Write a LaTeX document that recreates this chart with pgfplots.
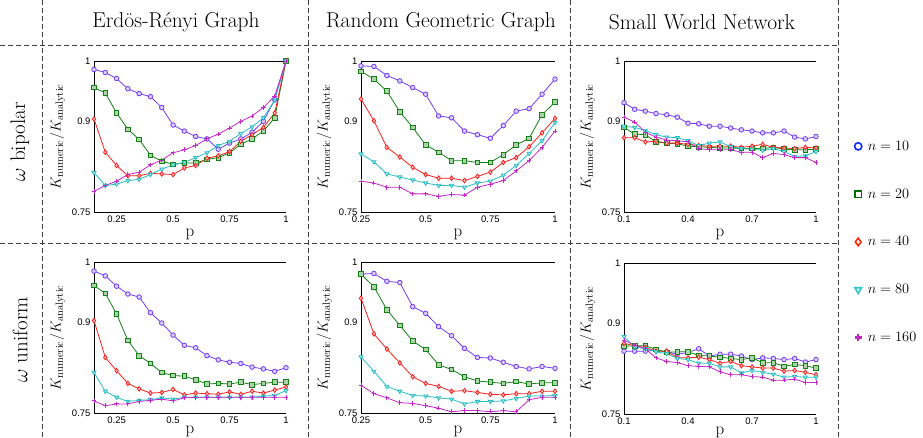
\documentclass[border=0pt]{standalone}
\usepackage{fontspec}
\usepackage{pgfplots}
\usepackage{pgfplotstable}
\pgfplotsset{compat=1.18}
\newfontfamily\tickfont{Liberation Sans}

\definecolor{c10}{RGB}{115,60,245}
\definecolor{c20}{RGB}{20,130,20}
\definecolor{c40}{RGB}{250,30,30}
\definecolor{c80}{RGB}{40,190,195}
\definecolor{c160}{RGB}{195,40,200}
\definecolor{l10}{RGB}{10,40,255}
\definecolor{l20}{RGB}{0,110,0}
\definecolor{l40}{RGB}{255,40,0}
\definecolor{l80}{RGB}{40,200,200}
\definecolor{l160}{RGB}{190,40,190}

\pgfplotsset{
 panel/.style={
  scale only axis, width=192pt, height=151pt, xmax=1, ymin=0.75, ymax=1,
  axis x line*=bottom, axis y line*=left, axis line style={-, black, line width=0.8pt},
  ytick={0.75,0.9,1}, major tick length=0pt,
  tick label style={font=\tickfont\fontsize{9.5}{9.5}\selectfont},
  /pgf/number format/assume math mode=true,
  xlabel={p}, ylabel={$K_{\mathrm{numeric}}/K_{\mathrm{analytic}}$},
  xlabel style={font=\fontsize{17}{17}\selectfont},
  ylabel style={font=\fontsize{15}{15}\selectfont},
  every axis plot/.append style={line width=0.8pt, mark size=2.3pt},
  clip=false,
 },
 s10/.style={c10, mark=*, mark options={fill=c10!25, draw=c10}},
 s20/.style={c20, mark=square*, mark options={fill=c20!35, draw=c20}},
 s40/.style={c40, mark=diamond*, mark options={fill=c40!25, draw=c40}},
 s80/.style={c80, mark=triangle*, mark options={fill=c80!35, draw=c80, rotate=180}},
 s160/.style={c160, mark=+, mark options={c160, line width=0.9pt}},
}

\pgfplotstableread{
p a b c d e
0.15 0.986 0.956 0.904 0.815 0.784
0.20 0.981 0.947 0.849 0.794 0.794
0.25 0.971 0.914 0.827 0.796 0.801
0.30 0.954 0.887 0.810 0.802 0.812
0.35 0.946 0.870 0.810 0.804 0.816
0.40 0.941 0.844 0.814 0.812 0.828
0.45 0.923 0.834 0.813 0.821 0.836
0.50 0.894 0.829 0.812 0.828 0.848
0.55 0.884 0.831 0.823 0.832 0.853
0.60 0.875 0.831 0.827 0.840 0.860
0.65 0.871 0.837 0.839 0.848 0.871
0.70 0.854 0.840 0.843 0.860 0.879
0.75 0.864 0.848 0.850 0.867 0.889
0.80 0.871 0.862 0.867 0.880 0.900
0.85 0.882 0.871 0.878 0.891 0.909
0.90 0.900 0.884 0.890 0.906 0.923
0.95 0.936 0.906 0.914 0.935 0.942
1.00 1.000 1.000 1.000 1.000 1.000
}\tA

\pgfplotstableread{
p a b c d e
0.25 0.992 0.983 0.937 0.846 0.801
0.30 0.991 0.970 0.901 0.833 0.798
0.35 0.976 0.950 0.857 0.813 0.791
0.40 0.967 0.916 0.841 0.808 0.791
0.45 0.956 0.890 0.824 0.803 0.780
0.50 0.945 0.861 0.812 0.798 0.780
0.55 0.909 0.849 0.806 0.794 0.776
0.60 0.906 0.835 0.806 0.794 0.779
0.65 0.884 0.835 0.802 0.791 0.778
0.70 0.878 0.832 0.809 0.798 0.791
0.75 0.872 0.832 0.816 0.801 0.796
0.80 0.893 0.845 0.832 0.811 0.802
0.85 0.917 0.861 0.840 0.827 0.818
0.90 0.921 0.872 0.858 0.847 0.835
0.95 0.945 0.911 0.881 0.868 0.857
1.00 0.970 0.932 0.905 0.898 0.884
}\tB

\pgfplotstableread{
p a b c d e
0.10 0.931 0.890 0.873 0.892 0.907
0.15 0.920 0.879 0.873 0.890 0.899
0.20 0.917 0.878 0.866 0.885 0.882
0.25 0.913 0.866 0.867 0.878 0.874
0.30 0.911 0.864 0.864 0.874 0.869
0.35 0.907 0.863 0.864 0.873 0.868
0.40 0.897 0.859 0.862 0.868 0.866
0.45 0.896 0.858 0.860 0.860 0.855
0.50 0.892 0.857 0.859 0.864 0.853
0.55 0.892 0.856 0.859 0.866 0.853
0.60 0.889 0.856 0.859 0.858 0.853
0.65 0.886 0.855 0.857 0.855 0.849
0.70 0.884 0.855 0.859 0.854 0.849
0.75 0.881 0.855 0.862 0.852 0.840
0.80 0.881 0.857 0.857 0.855 0.847
0.85 0.884 0.854 0.856 0.850 0.845
0.90 0.874 0.853 0.855 0.842 0.840
0.95 0.871 0.853 0.857 0.843 0.840
1.00 0.875 0.854 0.856 0.850 0.832
}\tC

\pgfplotstableread{
p a b c d e
0.15 0.985 0.961 0.903 0.817 0.770
0.20 0.977 0.948 0.842 0.786 0.762
0.25 0.960 0.914 0.820 0.776 0.765
0.30 0.947 0.870 0.799 0.769 0.765
0.35 0.942 0.845 0.790 0.771 0.769
0.40 0.916 0.832 0.783 0.772 0.771
0.45 0.899 0.817 0.784 0.775 0.773
0.50 0.879 0.812 0.789 0.773 0.770
0.55 0.862 0.811 0.780 0.776 0.775
0.60 0.858 0.805 0.783 0.776 0.776
0.65 0.845 0.798 0.782 0.776 0.776
0.70 0.838 0.799 0.781 0.776 0.776
0.75 0.834 0.798 0.785 0.776 0.776
0.80 0.832 0.801 0.781 0.776 0.776
0.85 0.826 0.797 0.786 0.776 0.776
0.90 0.823 0.799 0.783 0.778 0.776
0.95 0.819 0.801 0.788 0.779 0.776
1.00 0.825 0.801 0.793 0.787 0.776
}\tD

\pgfplotstableread{
p a b c d e
0.25 0.980 0.980 0.940 0.843 0.796
0.30 0.981 0.959 0.881 0.819 0.782
0.35 0.968 0.921 0.856 0.794 0.775
0.40 0.966 0.895 0.833 0.786 0.767
0.45 0.926 0.869 0.810 0.779 0.766
0.50 0.915 0.855 0.799 0.778 0.762
0.55 0.893 0.830 0.794 0.775 0.758
0.60 0.878 0.822 0.786 0.773 0.752
0.65 0.857 0.810 0.787 0.765 0.754
0.70 0.842 0.803 0.784 0.769 0.754
0.75 0.841 0.801 0.781 0.769 0.752
0.80 0.834 0.799 0.780 0.770 0.754
0.85 0.827 0.802 0.782 0.774 0.752
0.90 0.823 0.798 0.782 0.778 0.772
0.95 0.827 0.800 0.786 0.778 0.776
1.00 0.824 0.800 0.786 0.779 0.776
}\tE

\pgfplotstableread{
p a b c d e
0.10 0.854 0.862 0.867 0.878 0.872
0.15 0.854 0.863 0.863 0.861 0.864
0.20 0.854 0.863 0.860 0.858 0.858
0.25 0.856 0.857 0.854 0.853 0.843
0.30 0.853 0.852 0.854 0.850 0.837
0.35 0.849 0.853 0.843 0.842 0.835
0.40 0.852 0.853 0.843 0.840 0.830
0.45 0.858 0.847 0.844 0.834 0.829
0.50 0.846 0.846 0.840 0.834 0.828
0.55 0.849 0.844 0.834 0.828 0.820
0.60 0.849 0.842 0.837 0.828 0.815
0.65 0.846 0.840 0.830 0.818 0.815
0.70 0.840 0.843 0.828 0.822 0.812
0.75 0.843 0.835 0.826 0.819 0.811
0.80 0.842 0.835 0.826 0.816 0.806
0.85 0.840 0.829 0.821 0.811 0.806
0.90 0.842 0.832 0.822 0.812 0.808
0.95 0.836 0.830 0.819 0.811 0.802
1.00 0.840 0.826 0.815 0.811 0.802
}\tF

\tikzset{sepline/.style={draw=black!75, line width=0.8pt, dash pattern=on 5pt off 3pt}}

\begin{document}
\begin{tikzpicture}
\useasboundingbox (0,0) rectangle (923pt,-438pt);

% separators
\draw[sepline] (42pt,0) -- (42pt,-438pt);
\draw[sepline] (308pt,0) -- (308pt,-438pt);
\draw[sepline] (570pt,0) -- (570pt,-438pt);
\draw[sepline] (838pt,0) -- (838pt,-438pt);
\draw[sepline] (0,-45pt) -- (838pt,-45pt);
\draw[sepline] (0,-243pt) -- (838pt,-243pt);

% headers
\node[font=\fontsize{21.5}{24}\selectfont] at (176pt,-22pt) {Erdös-Rényi Graph};
\node[font=\fontsize{21.5}{24}\selectfont] at (441pt,-22pt) {Random Geometric Graph};
\node[font=\fontsize{21.5}{24}\selectfont] at (702pt,-22pt) {Small World Network};
\node[font=\fontsize{21}{24}\selectfont, rotate=90] at (20pt,-142pt) {$\omega$ bipolar};
\node[font=\fontsize{21}{24}\selectfont, rotate=90] at (20pt,-340pt) {$\omega$ uniform};

% ER bipolar
\begin{axis}[panel, at={(94pt,-61pt)}, anchor=north west, xmin=0.15, xtick={0.25,0.5,0.75,1}]
\addplot[black, line width=0.8pt, mark=none] coordinates {(0.15,1) (1,1)};
\addplot[s10] table[x=p,y=a]{\tA};
\addplot[s20] table[x=p,y=b]{\tA};
\addplot[s40] table[x=p,y=c]{\tA};
\addplot[s80] table[x=p,y=d]{\tA};
\addplot[s160] table[x=p,y=e]{\tA};
\end{axis}

% RGG bipolar
\begin{axis}[panel, width=194pt, at={(361pt,-61pt)}, anchor=north west, xmin=0.25, xtick={0.25,0.5,0.75,1}]
\addplot[black, line width=0.8pt, mark=none] coordinates {(0.25,1) (1,1)};
\addplot[s10] table[x=p,y=a]{\tB};
\addplot[s20] table[x=p,y=b]{\tB};
\addplot[s40] table[x=p,y=c]{\tB};
\addplot[s80] table[x=p,y=d]{\tB};
\addplot[s160] table[x=p,y=e]{\tB};
\end{axis}

% SW bipolar + legend
\begin{axis}[panel, at={(624pt,-61pt)}, anchor=north west, xmin=0.1, xtick={0.1,0.4,0.7,1},
  legend style={draw=none, fill=none, at={(1.2,0.485)}, anchor=north west,
    font=\fontsize{15.5}{15.5}\selectfont, row sep=33pt, column sep=4pt, inner sep=0pt},
  legend cell align=left]
\addlegendimage{only marks, mark=o, draw=l10, line width=1.6pt, mark size=3.6pt}
\addlegendentry{$n=10$}
\addlegendimage{only marks, mark=square, draw=l20, line width=1.6pt, mark size=3.4pt}
\addlegendentry{$n=20$}
\addlegendimage{only marks, mark=diamond, draw=l40, line width=1.6pt, mark size=3.8pt}
\addlegendentry{$n=40$}
\addlegendimage{only marks, mark=triangle, mark options={rotate=180}, draw=l80, line width=1.6pt, mark size=3.8pt}
\addlegendentry{$n=80$}
\addlegendimage{only marks, mark=+, draw=l160, line width=2.2pt, mark size=3.6pt}
\addlegendentry{$n=160$}
\addplot[black, line width=0.8pt, mark=none] coordinates {(0.1,1) (1,1)};
\addplot[s10] table[x=p,y=a]{\tC};
\addplot[s20] table[x=p,y=b]{\tC};
\addplot[s40] table[x=p,y=c]{\tC};
\addplot[s80] table[x=p,y=d]{\tC};
\addplot[s160] table[x=p,y=e]{\tC};
\end{axis}

% ER uniform
\begin{axis}[panel, at={(94pt,-262pt)}, anchor=north west, xmin=0.15, xtick={0.25,0.5,0.75,1},
  xlabel style={yshift=4pt}]
\addplot[black, line width=0.8pt, mark=none] coordinates {(0.15,1) (1,1)};
\addplot[s10] table[x=p,y=a]{\tD};
\addplot[s20] table[x=p,y=b]{\tD};
\addplot[s40] table[x=p,y=c]{\tD};
\addplot[s80] table[x=p,y=d]{\tD};
\addplot[s160] table[x=p,y=e]{\tD};
\end{axis}

% RGG uniform
\begin{axis}[panel, width=194pt, at={(361pt,-262pt)}, anchor=north west, xmin=0.25, xtick={0.25,0.5,0.75,1},
  xlabel style={yshift=4pt}]
\addplot[black, line width=0.8pt, mark=none] coordinates {(0.25,1) (1,1)};
\addplot[s10] table[x=p,y=a]{\tE};
\addplot[s20] table[x=p,y=b]{\tE};
\addplot[s40] table[x=p,y=c]{\tE};
\addplot[s80] table[x=p,y=d]{\tE};
\addplot[s160] table[x=p,y=e]{\tE};
\end{axis}

% SW uniform
\begin{axis}[panel, at={(624pt,-263pt)}, anchor=north west, xmin=0.1, xtick={0.1,0.4,0.7,1},
  xlabel style={yshift=4pt}]
\addplot[black, line width=0.8pt, mark=none] coordinates {(0.1,1) (1,1)};
\addplot[s10] table[x=p,y=a]{\tF};
\addplot[s20] table[x=p,y=b]{\tF};
\addplot[s40] table[x=p,y=c]{\tF};
\addplot[s80] table[x=p,y=d]{\tF};
\addplot[s160] table[x=p,y=e]{\tF};
\end{axis}
\end{tikzpicture}
\end{document}
